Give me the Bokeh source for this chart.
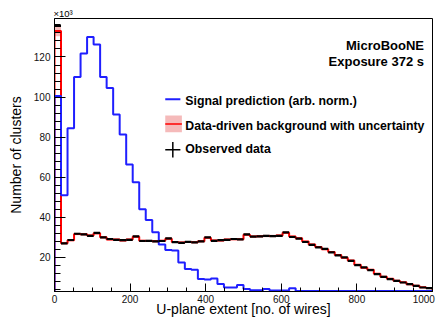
import numpy as np
from bokeh.plotting import figure
from bokeh.models import Range1d, SingleIntervalTicker, Label, Title
from bokeh.embed import file_html
from bokeh.resources import INLINE

# Binning of the U-plane extent histogram (number of wires)
x_min, x_max = 0, 1000
n_bins = 58
y_min, y_max = 3.0, 139.2   # thousands of clusters

# Observed data (x10^3 clusters per bin)
observed = [135.5, 27.0, 28.7, 31.8, 31.5, 30.8, 32.2, 30.0, 29.2, 28.8,
            28.6, 28.8, 30.5, 28.2, 28.3, 28.0, 28.2, 29.5, 27.6, 27.3,
            27.8, 27.5, 28.0, 30.0, 28.3, 28.6, 28.8, 29.2, 29.0, 31.5,
            30.4, 30.5, 30.8, 30.6, 30.8, 32.5, 30.2, 29.4, 27.7, 26.3,
            25.0, 24.3, 22.5, 21.0, 20.0, 18.3, 16.2, 15.0, 13.7, 11.7,
            10.3, 9.2, 8.3, 7.5, 6.7, 5.8, 5.0, 4.7]

# Data-driven background estimate (x10^3 clusters per bin)
background = [133.0, 27.1, 28.6, 31.7, 31.6, 30.9, 32.0, 30.1, 29.0, 28.9,
              28.5, 28.9, 30.3, 28.3, 28.2, 28.1, 28.3, 29.3, 27.7, 27.4,
              27.7, 27.6, 28.1, 29.8, 28.4, 28.5, 28.9, 29.1, 29.1, 31.3,
              30.5, 30.6, 30.7, 30.7, 30.9, 32.3, 30.4, 29.6, 27.9, 26.5,
              25.2, 24.1, 22.7, 21.2, 19.8, 18.5, 16.4, 14.9, 13.9, 11.9,
              10.4, 9.3, 8.4, 7.6, 6.6, 5.9, 5.1, 4.8]
bkg_rel_unc = 0.02

# Signal prediction, arbitrary normalisation
signal = [100.5, 51.0, 84.5, 110.0, 121.7, 130.0, 126.2, 110.0, 104.5, 91.3,
          81.3, 66.3, 57.5, 44.0, 38.7, 32.5, 26.5, 23.7, 23.5, 17.5,
          14.2, 13.8, 9.2, 9.0, 9.5, 6.7, 5.0, 5.0, 6.3, 4.3,
          3.6, 3.6, 4.2, 3.5, 3.5, 3.5, 4.6, 3.3, 3.3, 3.3,
          3.3, 3.3, 3.3, 3.3, 3.3, 3.3, 3.3, 3.3, 3.3, 3.3,
          3.3, 3.3, 3.3, 3.3, 3.3, 3.3, 3.3, 3.3]

x_ticks_interval = 200
y_ticks_interval = 20

FONT = "Liberation Sans"

edges = np.linspace(x_min, x_max, n_bins + 1)
centers = 0.5 * (edges[:-1] + edges[1:])
obs = np.array(observed)
bkg = np.array(background)
sig = np.array(signal)


def outline(vals):
    """Histogram outline starting and ending on the baseline."""
    xs = np.repeat(edges, 2)
    ys = np.concatenate([[0.0], np.repeat(vals, 2), [0.0]])
    return xs, ys


p = figure(width=440, height=321,
           x_range=Range1d(x_min, x_max), y_range=Range1d(y_min, y_max),
           output_backend="svg", toolbar_location=None,
           min_border_left=54, min_border_right=8,
           min_border_top=18, min_border_bottom=30)
p.grid.visible = False
p.background_fill_color = "white"
p.border_fill_color = "white"
p.outline_line_color = "black"
p.outline_line_width = 1

# Background with its uncertainty band
p.quad(left=edges[:-1], right=edges[1:],
       bottom=bkg * (1 - bkg_rel_unc), top=bkg * (1 + bkg_rel_unc),
       fill_color="#f3a9a9", fill_alpha=0.8, line_alpha=0)
bx, by = outline(bkg)
p.line(bx, by, line_color="#ff0000", line_width=2)

# Signal prediction
sx, sy = outline(sig)
p.line(sx, sy, line_color="#1f1fff", line_width=2)

# Observed data with bin-width bars and Poisson error bars
err = np.sqrt(obs * 1000.0) / 1000.0
p.segment(x0=edges[:-1], x1=edges[1:], y0=obs, y1=obs,
          line_color="black", line_width=2.2)
p.segment(x0=centers, x1=centers, y0=obs - err, y1=obs + err,
          line_color="black", line_width=1.5)

# Axes
for ax, interval, minor in ((p.xaxis, x_ticks_interval, 4),
                            (p.yaxis, y_ticks_interval, 5)):
    ax.ticker = SingleIntervalTicker(interval=interval, num_minor_ticks=minor)
    ax.axis_line_color = "black"
    ax.major_tick_line_color = "black"
    ax.minor_tick_line_color = "black"
    ax.major_tick_out = 0
    ax.minor_tick_out = 0
    ax.major_label_text_font = FONT
    ax.major_label_text_font_size = "10px"
    ax.major_label_text_color = "#111111"
    ax.axis_label_text_font = FONT
    ax.axis_label_text_font_size = "14px"
    ax.axis_label_text_font_style = "normal"
    ax.axis_label_text_color = "black"

p.xaxis.major_tick_in = 8
p.xaxis.minor_tick_in = 4
p.xaxis.major_label_standoff = 2
p.xaxis.major_label_overrides = {1000: "1000\u00a0\u00a0"}
p.xaxis.axis_label = "U-plane extent [no. of wires]"
p.xaxis.axis_label_standoff = -7
p.yaxis.major_tick_in = 11
p.yaxis.minor_tick_in = 6
p.yaxis.major_label_standoff = 4
p.yaxis.axis_label = "Number of clusters"
p.yaxis.axis_label_standoff = 7

# Common multiplier of the y axis
p.add_layout(Title(text="\u00d710\u00b3", align="left", offset=-1, standoff=-1,
                   text_font=FONT, text_font_size="9.5px",
                   text_font_style="normal", text_color="black"), "above")

# Experiment and exposure
for txt, yy in (("MicroBooNE", 125.6), ("Exposure 372 s", 117.9)):
    p.add_layout(Label(x=977.5, y=yy, text=txt, text_font=FONT,
                       text_font_size="13px", text_font_style="bold",
                       text_color="black", text_align="right",
                       text_baseline="middle"))

# Legend keys
leg_x0, leg_x1, leg_text_x = 293, 335, 346
row_sig, row_bkg, row_obs = 98.9, 86.6, 73.7
p.line([leg_x0, leg_x1 - 2], [row_sig, row_sig], line_color="#1f1fff", line_width=2)
p.quad(left=[leg_x0], right=[leg_x1 + 2], bottom=[row_bkg - 4.2], top=[row_bkg + 4.2],
       fill_color="#f3a9a9", fill_alpha=0.8, line_alpha=0)
p.line([leg_x0, leg_x1 + 2], [row_bkg, row_bkg], line_color="#ff0000", line_width=1.5)
p.line([leg_x0, leg_x1 - 2], [row_obs, row_obs], line_color="black", line_width=1.5)
p.line([0.5 * (leg_x0 + leg_x1 - 2)] * 2, [row_obs - 3.9, row_obs + 3.9],
       line_color="black", line_width=1.5)

for txt, yy in (("Signal prediction (arb. norm.)", row_sig - 0.8),
                ("Data-driven background with uncertainty", row_bkg - 1.0),
                ("Observed data", row_obs + 0.3)):
    p.add_layout(Label(x=leg_text_x, y=yy, text=txt, text_font=FONT,
                       text_font_size="12.3px", text_font_style="bold",
                       text_color="black", text_align="left",
                       text_baseline="middle"))

open("out.html", "w").write(file_html(p, INLINE))
